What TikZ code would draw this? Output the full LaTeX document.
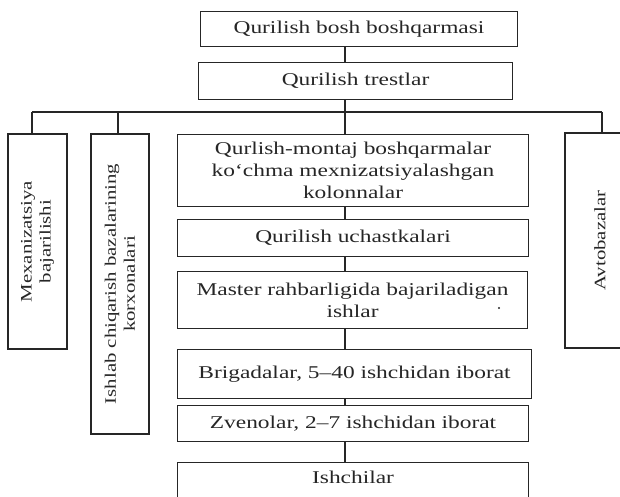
\documentclass[tikz,border=0pt]{standalone}
\usepackage{fontspec}
\setmainfont{Liberation Serif}[FakeStretch=1.3]
\usetikzlibrary{calc}
\begin{document}
\begin{tikzpicture}[x=1pt,y=-1pt,
  line width=1.1pt,
  every node/.style={draw=black!85, line width=1.1pt, inner sep=0pt, text=black!85},
  hbox/.style={anchor=north west, align=center,
    font=\fontsize{18}{22}\selectfont},
  vbox/.style={rotate=90, align=center,
    font=\fontsize{16}{19}\selectfont},
  link/.style={draw=black!85, line width=1.1pt}]
\useasboundingbox (0,0) rectangle (620,496);
\clip (0,0) rectangle (620,496);

% central column
\node[hbox, minimum width=317pt, minimum height=35pt] (top) at (200,11) {Qurilish bosh boshqarmasi};
\node[hbox, minimum width=314pt, minimum height=37pt] (trest) at (198,62) {Qurilish trestlar};
\node[hbox, minimum width=351pt, minimum height=72pt] (mont) at (177,134)
  {Qurlish-montaj boshqarmalar\\ko‘chma mexnizatsiyalashgan\\kolonnalar};
\node[hbox, minimum width=351pt, minimum height=37pt] (uch) at (177,219) {Qurilish uchastkalari};
\node[hbox, minimum width=350pt, minimum height=57pt] (master) at (177,271)
  {Master rahbarligida bajariladigan\\ishlar};
\node[circle, draw=none, fill=black!85, minimum size=2.2pt] (dot) at (499,308) {};
\node[hbox, minimum width=354pt, minimum height=49pt] (brig) at (177,349) {Brigadalar, 5–40 ishchidan iborat};
\node[hbox, minimum width=351pt, minimum height=36pt] (zven) at (177,405) {Zvenolar, 2–7 ishchidan iborat};
\node[draw=black!85, anchor=north west, minimum width=351pt, minimum height=48pt] (ishch) at (177,462) {};
\node[draw=none, font=\fontsize{18}{22}\selectfont] (ishcht) at ($(ishch.north)+(0,15)$) {Ishchilar};

% side boxes, text running upwards
\node[vbox, minimum width=215pt, minimum height=59pt] (mex) at (37.5,241.5) {Mexanizatsiya\\bajarilishi};
\node[vbox, minimum width=300pt, minimum height=58pt] (prod) at (120,284) {Ishlab chiqarish bazalarining\\korxonalari};
\node[vbox, minimum width=215pt, minimum height=70pt] (avto) at (600,240.5) {Avtobazalar};

% distribution bus under the trusts
\coordinate (bL) at (32,112);
\coordinate (bP) at (118,112);
\coordinate (bC) at (345,112);
\coordinate (bR) at (602,112);
\draw[link] (bL) -- (bR);
\draw[link] (bL) -- (bL |- mex.east);
\draw[link] (bP) -- (bP |- prod.east);
\draw[link] (bC) -- (bC |- mont.north);
\draw[link] (bR) -- (bR |- avto.east);

% vertical chain
\draw[link] (top.south -| bC) -- (trest.north -| bC);
\draw[link] (trest.south -| bC) -- (bC);
\draw[link] (mont.south -| bC) -- (uch.north -| bC);
\draw[link] (uch.south -| bC) -- (master.north -| bC);
\draw[link] (master.south -| bC) -- (brig.north -| bC);
\draw[link] (brig.south -| bC) -- (zven.north -| bC);
\draw[link] (zven.south -| bC) -- (ishch.north -| bC);
\end{tikzpicture}
\end{document}
